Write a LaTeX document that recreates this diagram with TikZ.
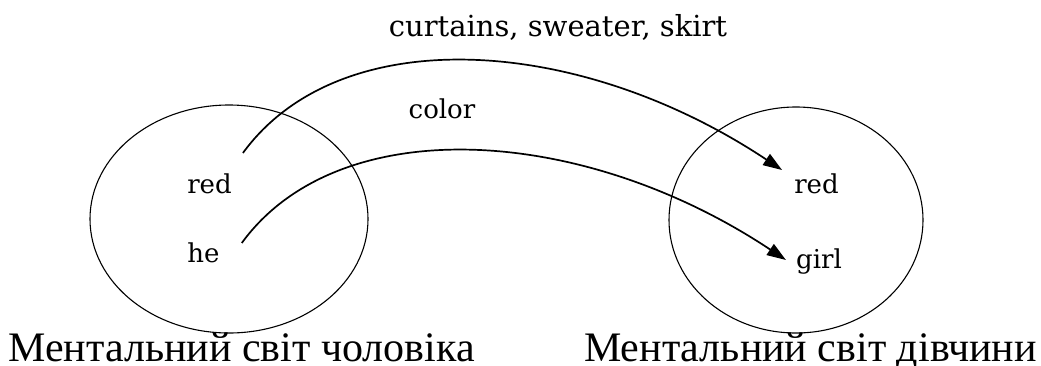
\documentclass[tikz,border=0pt]{standalone}
\usepackage{fontspec}
\setmainfont{DejaVu Serif}
\newfontfamily\cyrfont{Liberation Serif}
\usepackage{tikz}
\usetikzlibrary{arrows.meta,shapes.geometric,positioning}

\begin{document}
\begin{tikzpicture}[x=1pt, y=-1pt,
    world/.style={draw, ellipse, line width=1.1pt, inner sep=0pt},
    word/.style={anchor=base, inner sep=3pt, font=\fontsize{26}{30}\selectfont},
    caption/.style={anchor=base, inner sep=0pt, font=\cyrfont\fontsize{42}{48}\selectfont},
    arr/.style={-{Triangle[length=19pt,width=13pt]}, line width=1.7pt}
]
\useasboundingbox (0,0) rectangle (1041,365);

\node[world, minimum width=278pt, minimum height=228pt] (lworld) at (229,219) {};
\node[world, minimum width=254pt, minimum height=226pt] (rworld) at (796,220) {};

\node[word] (lred) at (209.5,193) {red};
\node[word] (lhe) at (203.5,262) {he};
\node[word] (rred) at (816.5,193) {red};
\node[word] (rgirl) at (819,268) {girl};

\node[word, font=\fontsize{29}{34}\selectfont] (things) at (558,36) {curtains, sweater, skirt};
\node[word] (color) at (442,118) {color};

\node[caption] (lcap) at (241.5,361) {Ментальний світ чоловіка};
\node[caption] (rcap) at (810.5,361) {Ментальний світ дівчини};

\draw[arr] ([shift={(8,-40)}]lred.base east) .. controls +(97,-133) and +(-203,-135) .. ([shift={(-9,-23)}]rred.base west);
\draw[arr] ([shift={(19,-19)}]lhe.base east) .. controls +(97,-133) and +(-203,-135) .. ([shift={(-7,-8)}]rgirl.base west);
\end{tikzpicture}
\end{document}
